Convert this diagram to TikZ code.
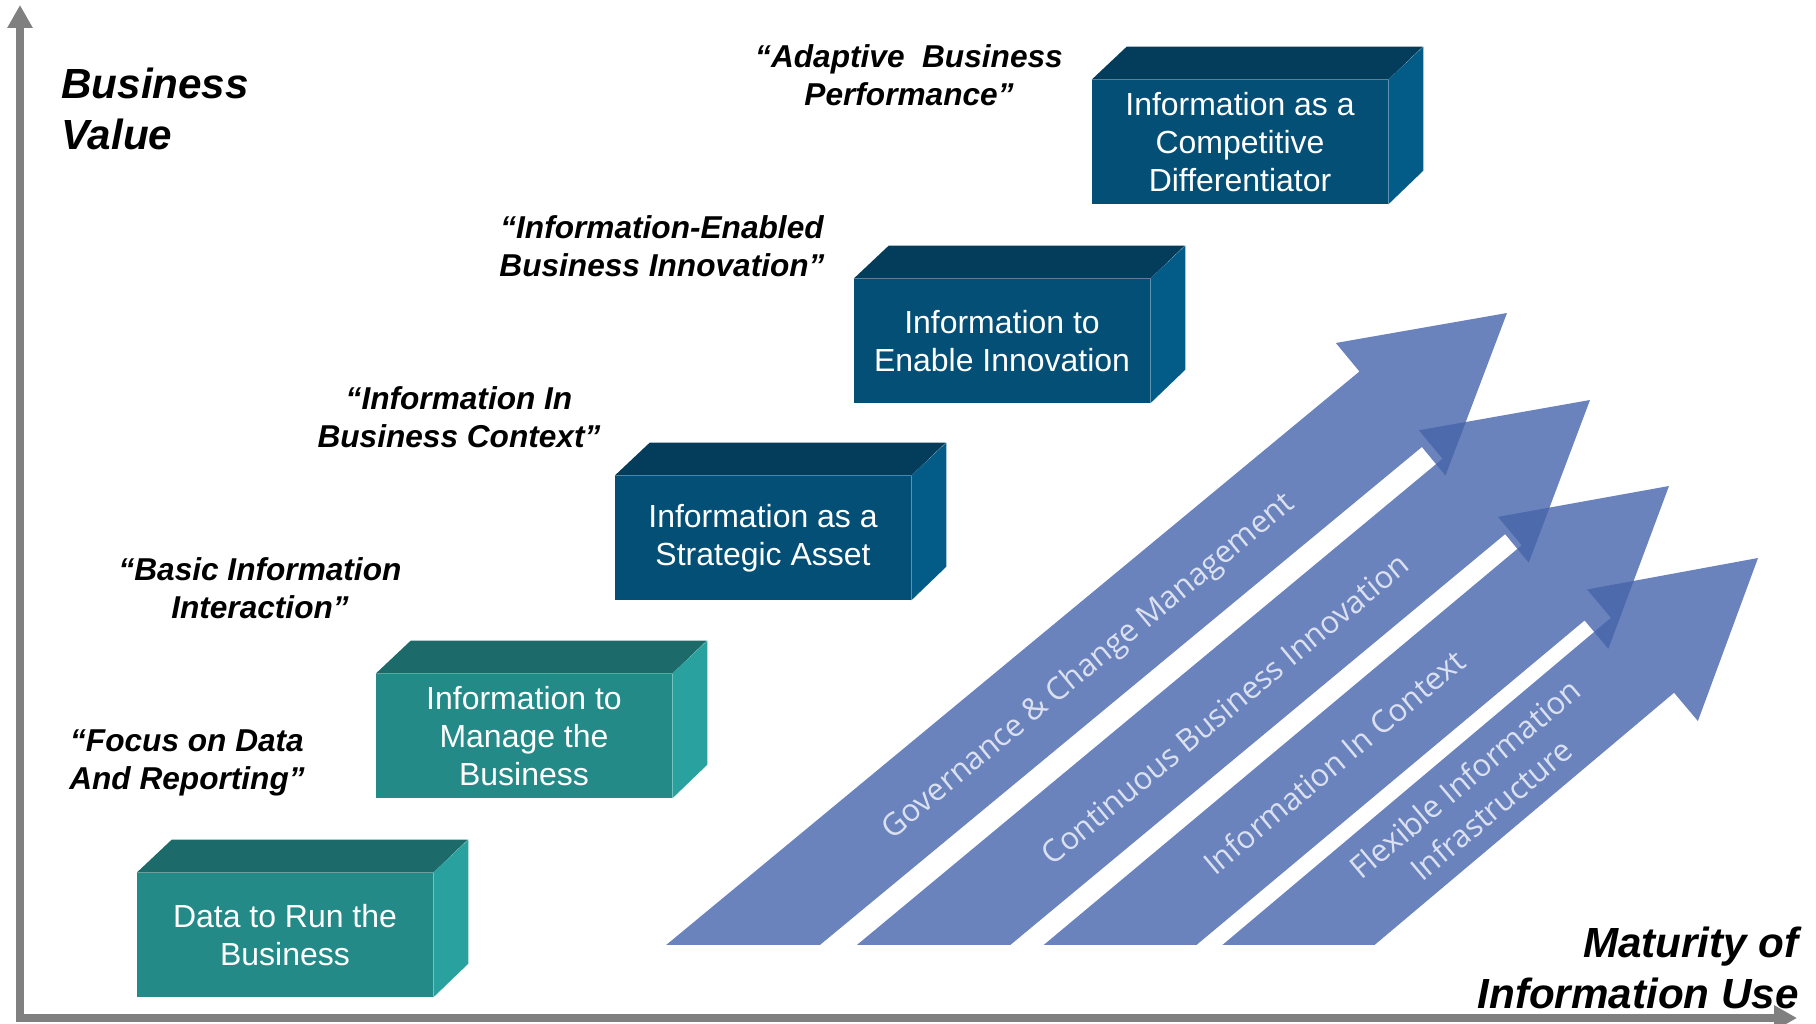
\documentclass[tikz,border=0pt]{standalone}
\usepackage{fontspec}
\setmainfont{Liberation Sans}
\newfontfamily\arrowfont{Open Sans}
\usetikzlibrary{arrows.meta, positioning}
\usepackage{xcolor}
\definecolor{TealFront}{RGB}{35,138,135}
\definecolor{TealTop}{RGB}{28,107,106}
\definecolor{TealSide}{RGB}{41,161,158}
\definecolor{NavyFront}{RGB}{4,79,117}
\definecolor{NavyTop}{RGB}{3,61,91}
\definecolor{NavySide}{RGB}{3,91,135}
\definecolor{ArrowBlue}{RGB}{107,131,189}
\definecolor{ArrowDark}{RGB}{76,106,172}
\definecolor{ArrowText}{RGB}{218,224,239}
\definecolor{AxisGray}{RGB}{128,128,128}

% outline of one maturity arrow, tip at the origin, pointing along x
\newcommand{\arrowoutline}{(0,0) -- (-151,-86) -- (-151,-49) -- (-1400,-49) -- (-1400,49) -- (-151,49) -- (-151,86) -- cycle}

\begin{document}
\begin{tikzpicture}[
          x=0.02cm, y=-0.02cm,
          front/.style={rectangle, inner sep=0pt, minimum width=5.92cm, minimum height=2.48cm, text=white, align=center, font=\fontsize{18.2}{21.8}\selectfont},
          tealbox/.style={front, fill=TealFront},
          navybox/.style={front, fill=NavyFront},
          quote/.style={align=center, inner sep=0pt, font=\fontsize{18}{21.6}\selectfont\bfseries\itshape},
          axislabel/.style={inner sep=0pt, font=\fontsize{24}{29.4}\selectfont\bfseries\itshape},
          axis/.style={AxisGray, line width=4.5pt, line cap=rect, -{Triangle[length=0.46cm, width=0.48cm]}},
          arrowtext/.style={text=ArrowText, align=center, inner sep=0pt, font=\arrowfont\fontsize{17.7}{23}\selectfont}
        ]
          \useasboundingbox (0,0) rectangle (1816,1024);

          % maturity arrows
          \begin{scope}
            \clip (0,0) rectangle (1816,944);
            \foreach \tipx/\tipy/\ang in {1507/313/39.6, 1590/400/39.7, 1669/486/39.9, 1758/558/40.1}
              \fill[ArrowBlue, shift={(\tipx,\tipy)}, rotate=\ang] \arrowoutline;
          \end{scope}
          \foreach \tipx/\tipy/\ang/\nx/\ny/\nang in {1507/313/39.6/1590/400/39.7, 1590/400/39.7/1669/486/39.9, 1669/486/39.9/1758/558/40.1} {
            \begin{scope}
              \clip[shift={(\tipx,\tipy)}, rotate=\ang] \arrowoutline;
              \fill[ArrowDark, shift={(\nx,\ny)}, rotate=\nang] \arrowoutline;
            \end{scope}
          }

          \node (t1) [arrowtext, rotate=39.6] at (1089,667) {Governance \& Change Management};
          \node (t2) [arrowtext, rotate=39.7] at (1225,709) {Continuous Business Innovation};
          \node (t3) [arrowtext, rotate=39.9] at (1334,762) {Information In Context};
          \node (t4) [arrowtext, rotate=40.1] at (1478,794) {Flexible Information\\Infrastructure};

          % axes
          \coordinate (orig) at (20,1018);
          \coordinate (ytop) at (20,5);
          \coordinate (xend) at (1797,1018);
          \draw[axis] (orig) -- (ytop);
          \draw[axis] (orig) -- (xend);

          \node (yl) [axislabel, anchor=west, align=left] at (61,109) {Business\\Value};
          \node (xl) [axislabel, anchor=east, align=right] at (1799,968) {Maturity of\\Information Use};

          % steps
          \node (b1) [tealbox] at (285,935) {Data to Run the\\Business};
          \node (b2) [tealbox] at (524,736) {Information to\\Manage the\\Business};
          \node (b3) [navybox] at (763,538) {Information as a\\Strategic Asset};
          \node (b4) [navybox] at (1002,341) {Information to\\Enable Innovation};
          \node (b5) [navybox] at (1240,142) {Information as a\\Competitive\\Differentiator};

          \foreach \b/\tc/\sc in {b1/TealTop/TealSide, b2/TealTop/TealSide, b3/NavyTop/NavySide, b4/NavyTop/NavySide, b5/NavyTop/NavySide} {
            \fill[\tc] (\b.north west) -- ++(35,-33) -- ++(296,0) -- (\b.north east) -- cycle;
            \fill[\sc] (\b.north east) -- ++(35,-33) -- ++(0,124) -- (\b.south east) -- cycle;
          }

          \node (q1) [quote] at (187,763) {“Focus on Data\\And Reporting”};
          \node (q2) [quote] at (260,588) {“Basic Information\\Interaction”};
          \node (q3) [quote] at (459,417) {“Information In\\Business Context”};
          \node (q4) [quote] at (662,246) {“Information-Enabled\\Business Innovation”};
          \node (q5) [quote] at (909,75) {“Adaptive~ Business\\Performance”};
        \end{tikzpicture}
\end{document}
